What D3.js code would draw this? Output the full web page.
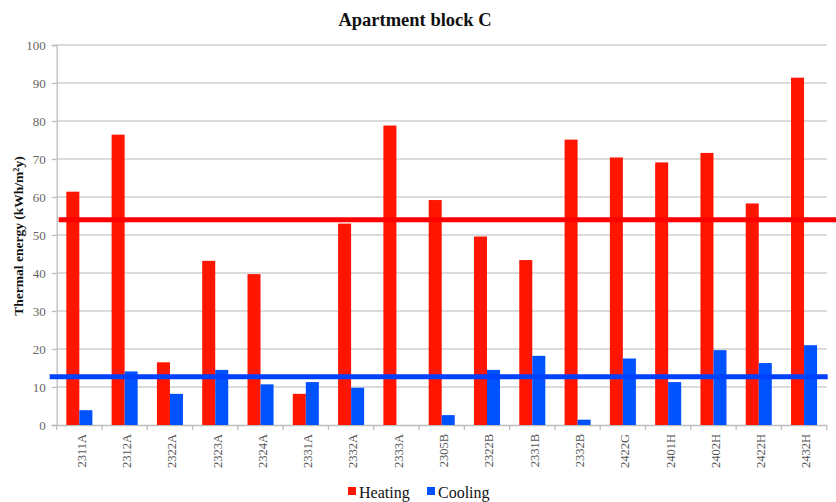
<!DOCTYPE html>
<html><head><meta charset="utf-8">
<script src="https://cdn.jsdelivr.net/npm/d3@7/dist/d3.min.js"></script>
<style>body{margin:0;background:#fff}svg{display:block}</style>
</head><body>
<svg id="c" width="836" height="502"></svg>
<script>
const categories = ["2311A","2312A","2322A","2323A","2324A","2331A","2332A","2333A","2305B","2322B","2331B","2332B","2422G","2401H","2402H","2422H","2432H"];
const heating = [61.4,76.4,16.5,43.2,39.7,8.2,53.0,78.8,59.2,49.6,43.4,75.1,70.4,69.1,71.6,58.3,91.4];
const cooling = [3.9,14.1,8.2,14.5,10.7,11.3,9.8,0,2.6,14.5,18.2,1.4,17.5,11.3,19.7,16.3,21.0];
const seriesNames = ["Heating","Cooling"];
const averages = [54.0, 12.7];
const yTicks = [0,10,20,30,40,50,60,70,80,90,100];
const title = "Apartment block C";
const yTitle = "Thermal energy (kWh/m²y)";

const colors = {Heating:"#ff1500", Cooling:"#0052ff"};
const avgColors = ["#ff0000","#0040ff"];

const svg = d3.select("#c");
const L = 56.7, R = 826.7, T = 45, B = 425;

const x0 = d3.scaleBand().domain(categories).range([L, R]).paddingInner(0).paddingOuter(0);
const x1 = d3.scaleBand().domain(seriesNames).range([0, x0.bandwidth()]).paddingInner(0).paddingOuter(0.74);
const y = d3.scaleLinear().domain([0,100]).range([B, T]);

// gridlines
svg.append("g").selectAll("line").data(yTicks.filter(d=>d>0)).join("line")
  .attr("x1", L).attr("x2", R).attr("y1", d=>y(d)).attr("y2", d=>y(d))
  .attr("stroke", "#cfcfcf").attr("stroke-width", 1.3);

// y axis
const yAxis = svg.append("g").attr("transform", `translate(${L},0)`)
  .call(d3.axisLeft(y).tickValues(yTicks).tickSize(5).tickPadding(6).tickFormat(d3.format("d")));
yAxis.select(".domain").attr("stroke","#bdbdbd").attr("stroke-width",1.3);
yAxis.selectAll(".tick line").attr("stroke","#bdbdbd").attr("stroke-width",1.3);
yAxis.selectAll("text").attr("font-family","'Liberation Serif', serif").attr("font-size",13).attr("fill","#666");

// x axis
const xAxis = svg.append("g").attr("transform", `translate(0,${B})`)
  .call(d3.axisBottom(x0).tickSize(0).tickPadding(0));
xAxis.select(".domain").attr("stroke","#bdbdbd").attr("stroke-width",1.3);
// category boundary ticks
svg.append("g").selectAll("line").data(categories.concat(["_end"])).join("line")
  .attr("x1", (d,i)=> L + i*x0.step()).attr("x2", (d,i)=> L + i*x0.step())
  .attr("y1", B).attr("y2", B+5).attr("stroke","#bdbdbd").attr("stroke-width",1.3);
xAxis.selectAll(".tick text")
  .attr("font-family","'Liberation Serif', serif").attr("font-size",12.5).attr("fill","#555")
  .attr("transform","rotate(-90)").attr("text-anchor","end").attr("dy","0.35em")
  .attr("x",-9).attr("y",2);

// bars
const rows = categories.map((c,i)=>({cat:c, vals:[{k:"Heating", v:heating[i]},{k:"Cooling", v:cooling[i]}]}));
const g = svg.append("g").selectAll("g").data(rows).join("g")
  .attr("transform", d=>`translate(${x0(d.cat)},0)`);
g.selectAll("rect").data(d=>d.vals.filter(e=>e.v>0)).join("rect")
  .attr("x", d=>x1(d.k)).attr("width", x1.bandwidth())
  .attr("y", d=>y(d.v)).attr("height", d=>B - y(d.v))
  .attr("fill", d=>colors[d.k]);

// average lines
const avgExt = [[L+2, 836],[L-7, R+1]];
svg.append("g").selectAll("line").data(averages).join("line")
  .attr("x1",(d,i)=>avgExt[i][0]).attr("x2",(d,i)=>avgExt[i][1])
  .attr("y1", d=>y(d)).attr("y2", d=>y(d))
  .attr("stroke",(d,i)=>avgColors[i]).attr("stroke-width",5);

// title
svg.append("text").attr("x", 415).attr("y", 26).attr("text-anchor","middle")
  .attr("font-family","'Liberation Serif', serif").attr("font-weight","bold").attr("font-size",18.5)
  .attr("fill","#111").text(title);

// y title
svg.append("text").attr("transform", `translate(22.5,${(T+B)/2+1}) rotate(-90)`).attr("text-anchor","middle")
  .attr("font-family","'Liberation Serif', serif").attr("font-weight","bold").attr("font-size",13.5)
  .attr("fill","#111").text(yTitle);

// legend
const leg = svg.append("g");
const legX = [348, 427];
seriesNames.forEach((s,i)=>{
  leg.append("rect").attr("x", legX[i]).attr("y", 487).attr("width", 8).attr("height", 8).attr("fill", colors[s]);
  leg.append("text").attr("x", legX[i]+11).attr("y", 498)
    .attr("font-family","'Liberation Serif', serif").attr("font-size",16).attr("fill","#111").text(s);
});
</script>
</body></html>
